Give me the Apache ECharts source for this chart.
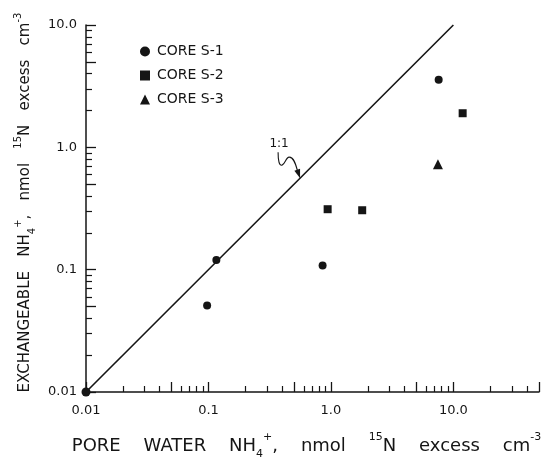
<!DOCTYPE html>
<html>
<head>
<meta charset="utf-8">
<script src="https://cdn.jsdelivr.net/npm/echarts@6/dist/echarts.min.js"></script>
<style>
html,body{margin:0;padding:0;background:#fff;}
#chart{width:551px;height:459px;}
</style>
</head>
<body>
<div id="chart"></div>
<script>
// ---- data ----
const seriesNames = ['CORE S-1', 'CORE S-2', 'CORE S-3'];
const coreS1 = [[0.116, 0.12], [0.0975, 0.051], [0.855, 0.108], [7.58, 3.56]];
const coreS2 = [[0.94, 0.312], [1.80, 0.306], [11.9, 1.90]];
const coreS3 = [[7.48, 0.728]];
const oneToOne = [[0.01, 0.01], [10, 10]];
const annotationPoint = [0.56, 0.56];
const annotationText = '1:1';

const xTickValues = [0.01, 0.1, 1, 10];
const xTickLabels = ['0.01', '0.1', '1.0', '10.0'];
const yTickValues = [0.01, 0.1, 1, 10];
const yTickLabels = ['0.01', '0.1', '1.0', '10.0'];

const xMajorTicks = [0.01, 0.05, 0.1, 0.5, 1, 5, 10, 50];
const xMinorTicks = [0.02, 0.03, 0.04, 0.06, 0.07, 0.08, 0.09,
                     0.2, 0.3, 0.4, 0.6, 0.7, 0.8, 0.9,
                     2, 3, 4, 6, 7, 8, 9, 20, 30, 40];
const yMajorTicks = [0.01, 0.05, 0.1, 0.5, 1, 5, 10];
const yMinorTicks = [0.02, 0.03, 0.04, 0.06, 0.07, 0.08, 0.09,
                     0.2, 0.3, 0.4, 0.6, 0.7, 0.8, 0.9,
                     2, 3, 4, 6, 7, 8, 9];
const xMin = 0.01, xMax = 50, yMin = 0.01, yMax = 10;

const xName = 'PORE    WATER    NH{sub|4}{sup|+},    nmol    {sup|15}N    excess    cm{sup|-3}';
const yName = 'EXCHANGEABLE   NH{sub|4}{sup|+},   nmol   {sup|15}N   excess   cm{sup|-3}';

// ---- chart ----
const FONT = 'DejaVu Sans';
const INK = '#151515';

function makeFmt(vals, labels) {
  return function (v) {
    for (let i = 0; i < vals.length; i++) {
      if (Math.abs(Math.log10(vals[i]) - Math.log10(v)) < 1e-6) return labels[i];
    }
    return '';
  };
}

const chart = echarts.init(document.getElementById('chart'), null, {renderer: 'canvas'});

const option = {
  backgroundColor: '#fff',
  animation: false,
  grid: {left: 86, right: 12, top: 25, bottom: 67, containLabel: false, outerBoundsMode: 'none'},
  legend: {
    orient: 'vertical',
    left: 135,
    top: 39,
    itemWidth: 10,
    itemHeight: 10,
    itemGap: 9,
    formatter: function (n) { return '{pad|}' + n; },
    textStyle: {fontFamily: FONT, fontSize: 14, color: INK, lineHeight: 15,
                rich: {pad: {width: 2}}},
    data: [
      {name: seriesNames[0], icon: 'circle'},
      {name: seriesNames[1], icon: 'rect'},
      {name: seriesNames[2], icon: 'triangle'}
    ]
  },
  xAxis: [
    {
      type: 'log', logBase: 10, gridIndex: 0, position: 'bottom', min: xMin, max: xMax,
      axisLine: {show: true, lineStyle: {color: INK, width: 1.5}},
      axisTick: {show: true, inside: true, length: 10, customValues: xMajorTicks,
                 lineStyle: {color: INK, width: 1.3}},
      axisLabel: {show: true, customValues: xTickValues, formatter: makeFmt(xTickValues, xTickLabels),
                  margin: 12, fontFamily: FONT, fontSize: 13, color: INK},
      splitLine: {show: false},
      name: xName,
      nameLocation: 'middle',
      nameGap: 40,
      nameTextStyle: {
        fontFamily: FONT, fontSize: 18, color: INK, lineHeight: 28, padding: [0, 12, 0, 0],
        rich: {
          sup: {fontFamily: FONT, fontSize: 11, color: INK, verticalAlign: 'top', lineHeight: 12},
          sub: {fontFamily: FONT, fontSize: 11, color: INK, verticalAlign: 'bottom', lineHeight: 12}
        }
      }
    },
    {
      type: 'log', logBase: 10, gridIndex: 0, position: 'bottom', offset: 0, min: xMin, max: xMax,
      axisLine: {show: false},
      axisTick: {show: true, inside: true, length: 6, customValues: xMinorTicks,
                 lineStyle: {color: INK, width: 1.2}},
      axisLabel: {show: false},
      splitLine: {show: false}
    }
  ],
  yAxis: [
    {
      type: 'log', logBase: 10, gridIndex: 0, position: 'left', min: yMin, max: yMax,
      axisLine: {show: true, lineStyle: {color: INK, width: 1.5}},
      axisTick: {show: true, inside: true, length: 10, customValues: yMajorTicks,
                 lineStyle: {color: INK, width: 1.3}},
      axisLabel: {show: true, customValues: yTickValues, formatter: makeFmt(yTickValues, yTickLabels),
                  margin: 9, fontFamily: FONT, fontSize: 13, color: INK},
      splitLine: {show: false},
      name: yName,
      nameLocation: 'middle',
      nameGap: 43,
      nameTextStyle: {
        fontFamily: FONT, fontSize: 15, color: INK, lineHeight: 24, padding: [0, 0, 0, 12],
        rich: {
          sup: {fontFamily: FONT, fontSize: 10, color: INK, verticalAlign: 'top', lineHeight: 11},
          sub: {fontFamily: FONT, fontSize: 10, color: INK, verticalAlign: 'bottom', lineHeight: 11}
        }
      }
    },
    {
      type: 'log', logBase: 10, gridIndex: 0, position: 'left', offset: 0, min: yMin, max: yMax,
      axisLine: {show: false},
      axisTick: {show: true, inside: true, length: 6, customValues: yMinorTicks,
                 lineStyle: {color: INK, width: 1.2}},
      axisLabel: {show: false},
      splitLine: {show: false}
    }
  ],
  series: [
    {
      name: '1:1', type: 'line', xAxisIndex: 0, yAxisIndex: 0,
      data: [
        {value: oneToOne[0], symbol: 'circle', symbolSize: 9},
        {value: oneToOne[1], symbol: 'none'}
      ],
      showSymbol: true, clip: false,
      lineStyle: {color: INK, width: 1.6},
      itemStyle: {color: INK, opacity: 1},
      z: 3
    },
    {
      name: seriesNames[0], type: 'scatter', xAxisIndex: 0, yAxisIndex: 0,
      symbol: 'circle', symbolSize: 8, data: coreS1,
      itemStyle: {color: INK, opacity: 1}
    },
    {
      name: seriesNames[1], type: 'scatter', xAxisIndex: 0, yAxisIndex: 0,
      symbol: 'rect', symbolSize: 8, data: coreS2,
      itemStyle: {color: INK, opacity: 1}
    },
    {
      name: seriesNames[2], type: 'scatter', xAxisIndex: 0, yAxisIndex: 0,
      symbol: 'triangle', symbolSize: 10, data: coreS3,
      itemStyle: {color: INK, opacity: 1}
    }
  ]
};
chart.setOption(option);

// annotation "1:1" with squiggly arrow, anchored to a data point on the 1:1 line
const tip = chart.convertToPixel({gridIndex: 0}, annotationPoint);
const curveStyle = {stroke: INK, lineWidth: 1.1, fill: null};
chart.setOption({
  graphic: [{
    type: 'group', x: tip[0], y: tip[1], silent: true,
    children: [
      {type: 'bezierCurve', shape: {x1: -22, y1: -26, cpx1: -22, cpy1: -18, cpx2: -21, cpy2: -12, x2: -18, y2: -13},
       style: curveStyle},
      {type: 'bezierCurve', shape: {x1: -18, y1: -13, cpx1: -15, cpy1: -14, cpx2: -14, cpy2: -21, x2: -11, y2: -21},
       style: curveStyle},
      {type: 'bezierCurve', shape: {x1: -11, y1: -21, cpx1: -6, cpy1: -21, cpx2: -4, cpy2: -13, x2: -2.5, y2: -7},
       style: curveStyle},
      {type: 'polygon', shape: {points: [[0, 0], [-0.05, -9.5], [-5.75, -7.5]]},
       style: {fill: INK}},
      {type: 'text', x: -21, y: -34,
       style: {text: annotationText, fontFamily: FONT, fontSize: 12, fill: INK, align: 'center', verticalAlign: 'middle'}}
    ]
  }]
});
</script>
</body>
</html>
